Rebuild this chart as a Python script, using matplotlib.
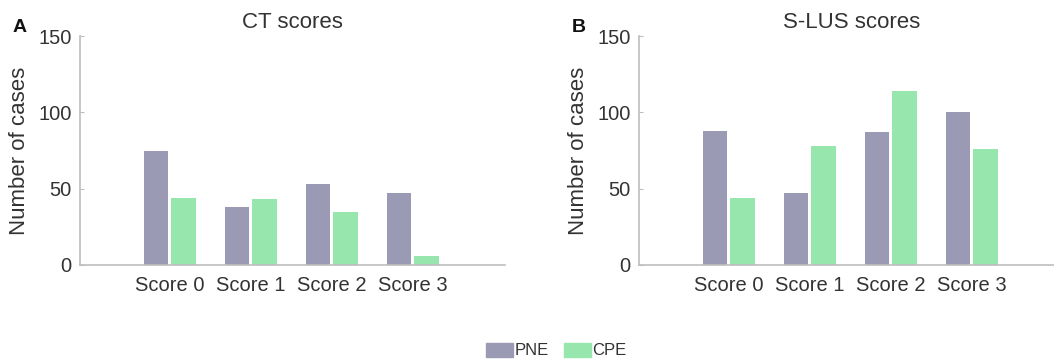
import numpy as np
from matplotlib import pyplot as plt
from matplotlib.patches import Patch

plt.rcParams['font.family'] = ['Liberation Sans', 'DejaVu Sans']

# Bar colours
PNE_COLOR = '#9a9ab5'
CPE_COLOR = '#96e6ad'
TEXT = '#333333'
AXIS = '#bdbdbd'

categories = ['Score 0', 'Score 1', 'Score 2', 'Score 3']
ct_pne = [75, 38, 53, 47]
ct_cpe = [44, 43, 35, 6]
lus_pne = [88, 47, 87, 100]
lus_cpe = [44, 78, 114, 76]

fig = plt.figure(figsize=(10.54, 3.59), dpi=100)

x = np.arange(len(categories))
w = 0.30
off = 0.17


def panel(ax, pne, cpe, title, letter):
    ax.bar(x - off, pne, w, color=PNE_COLOR)
    ax.bar(x + off, cpe, w, color=CPE_COLOR)
    ax.set_xlim(-1.11, 4.14)
    ax.set_ylim(0, 150)
    ax.set_yticks([0, 50, 100, 150])
    ax.set_xticks(x)
    ax.set_xticklabels(categories)
    for s in ['top', 'right']:
        ax.spines[s].set_visible(False)
    for s in ['left', 'bottom']:
        ax.spines[s].set_color(AXIS)
        ax.spines[s].set_linewidth(1.2)
    ax.tick_params(axis='y', direction='in', length=3, color=AXIS,
                   labelsize=14.5, labelcolor=TEXT, pad=6)
    ax.tick_params(axis='x', length=0, labelsize=14.5, labelcolor=TEXT, pad=8)
    ax.set_ylabel('Number of cases', fontsize=16, color=TEXT, labelpad=6)
    ax.set_title(title, fontsize=16, color=TEXT, pad=6)
    ax.text(-0.158, 1.0, letter, transform=ax.transAxes, fontsize=14,
            fontweight='bold', color='#111111', ha='left', va='bottom')


ax1 = fig.add_axes([80 / 1054, 94 / 359, 425 / 1054, 229 / 359])
ax2 = fig.add_axes([639 / 1054, 94 / 359, 425 / 1054, 229 / 359])
panel(ax1, ct_pne, ct_cpe, 'CT scores', 'A')
panel(ax2, lus_pne, lus_cpe, 'S-LUS scores', 'B')

handles = [Patch(color=PNE_COLOR, label='PNE'), Patch(color=CPE_COLOR, label='CPE')]
fig.legend(handles=handles, loc='lower center', bbox_to_anchor=(0.528, -0.04),
           ncol=2, frameon=False, fontsize=12, handlelength=1.6,
           handleheight=0.9, handletextpad=0.1, columnspacing=0.9,
           labelcolor=TEXT)

fig.savefig('out.png', dpi=100)
